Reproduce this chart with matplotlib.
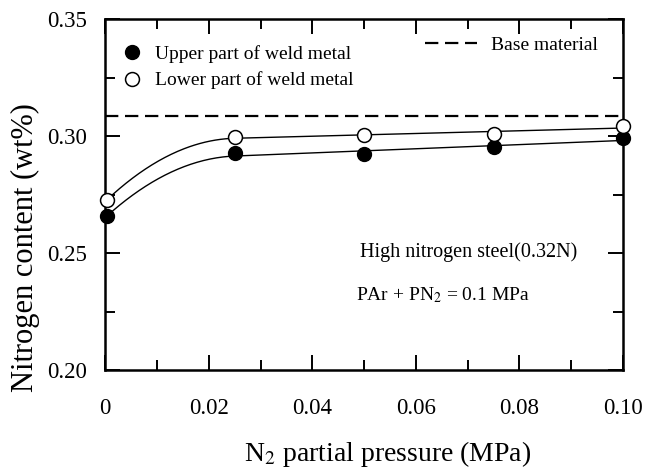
import numpy as np
import matplotlib.pyplot as plt
from matplotlib.lines import Line2D
from matplotlib.ticker import MultipleLocator

plt.rcParams['font.family'] = ['Liberation Serif', 'DejaVu Serif']
plt.rcParams['mathtext.fontset'] = 'stix'

# data
pressure = [0.0003, 0.025, 0.05, 0.075, 0.1]
upper = [0.2658, 0.2927, 0.2923, 0.2953, 0.2991]
lower = [0.2727, 0.2996, 0.3004, 0.3009, 0.3043]
base_material = 0.3088


def guide(x, y, n=100):
    # straight fit over the plateau, bent curve up from the first point
    x = np.asarray(x, float)
    y = np.asarray(y, float)
    s, c = np.polyfit(x[1:], y[1:], 1)
    x1, y1 = x[1], s * x[1] + c
    a = (y[0] - y1 - s * (x[0] - x1)) / (x[0] - x1) ** 2
    xa = np.linspace(x[0], x1, n)
    ya = y1 + s * (xa - x1) + a * (xa - x1) ** 2
    xb = np.linspace(x1, x[-1], n)
    yb = s * xb + c
    return np.r_[xa, xb], np.r_[ya, yb]


fig = plt.figure(figsize=(6.45, 4.68), dpi=100)
ax = fig.add_axes([0.163, 0.209, 0.803, 0.750])

for vals in (upper, lower):
    xs, ys = guide(pressure, vals)
    ax.plot(xs, ys, color='black', lw=1.0)

ax.axhline(base_material, color='black', lw=1.6, dashes=(6, 3))

ax.plot(pressure, upper, 'o', color='black', ms=10, zorder=3, clip_on=False)
ax.plot(pressure, lower, 'o', mfc='white', mec='black', mew=1.1, ms=10, zorder=3,
        clip_on=False)

ax.set_xlim(0, 0.1)
ax.set_ylim(0.20, 0.35)
ax.set_xticks([0, 0.02, 0.04, 0.06, 0.08, 0.10])
ax.set_xticklabels(['0', '0.02', '0.04', '0.06', '0.08', '0.10'])
ax.set_yticks([0.20, 0.25, 0.30, 0.35])
ax.set_yticklabels(['0.20', '0.25', '0.30', '0.35'])
ax.xaxis.set_minor_locator(MultipleLocator(0.01))
ax.yaxis.set_minor_locator(MultipleLocator(0.025))
ax.tick_params(which='both', direction='in', top=True, right=True, width=1.4)
ax.tick_params(which='major', length=11)
ax.tick_params(which='minor', length=7)
ax.tick_params(axis='x', which='major', labelsize=16.5, pad=20)
ax.tick_params(axis='y', which='major', labelsize=16.5, pad=13)
for s in ax.spines.values():
    s.set_linewidth(1.8)

ax.set_xlabel(r'N$_2$ partial pressure (MPa)', fontsize=20)
ax.xaxis.set_label_coords(0.546, -0.195)
ax.set_ylabel('Nitrogen content (wt%)', fontsize=22)
ax.yaxis.set_label_coords(-0.125, 0.35)

h1 = Line2D([], [], marker='o', ls='none', color='black', ms=10)
h2 = Line2D([], [], marker='o', ls='none', mfc='white', mec='black', mew=1.1, ms=10)
leg1 = ax.legend([h1, h2], ['Upper part of weld metal', 'Lower part of weld metal'],
                 loc='upper left', bbox_to_anchor=(0.0, 0.96), frameon=False,
                 fontsize=14, handletextpad=0.35, labelspacing=0.45,
                 borderaxespad=0.2, handlelength=1.6)
ax.add_artist(leg1)
h3 = Line2D([], [], color='black', lw=1.6, dashes=(6, 3))
ax.legend([h3], ['Base material'], loc='upper right', bbox_to_anchor=(0.985, 1.0),
          frameon=False, fontsize=14, handlelength=2.7, handletextpad=0.7)

ax.text(0.492, 0.335, 'High nitrogen steel(0.32N)', fontsize=14.5, va='center',
        transform=ax.transAxes)
ax.text(0.485, 0.215, r'PAr + PN$_2$ = 0.1 MPa', fontsize=14, va='center',
        transform=ax.transAxes)

fig.savefig('out.png', dpi=100)
